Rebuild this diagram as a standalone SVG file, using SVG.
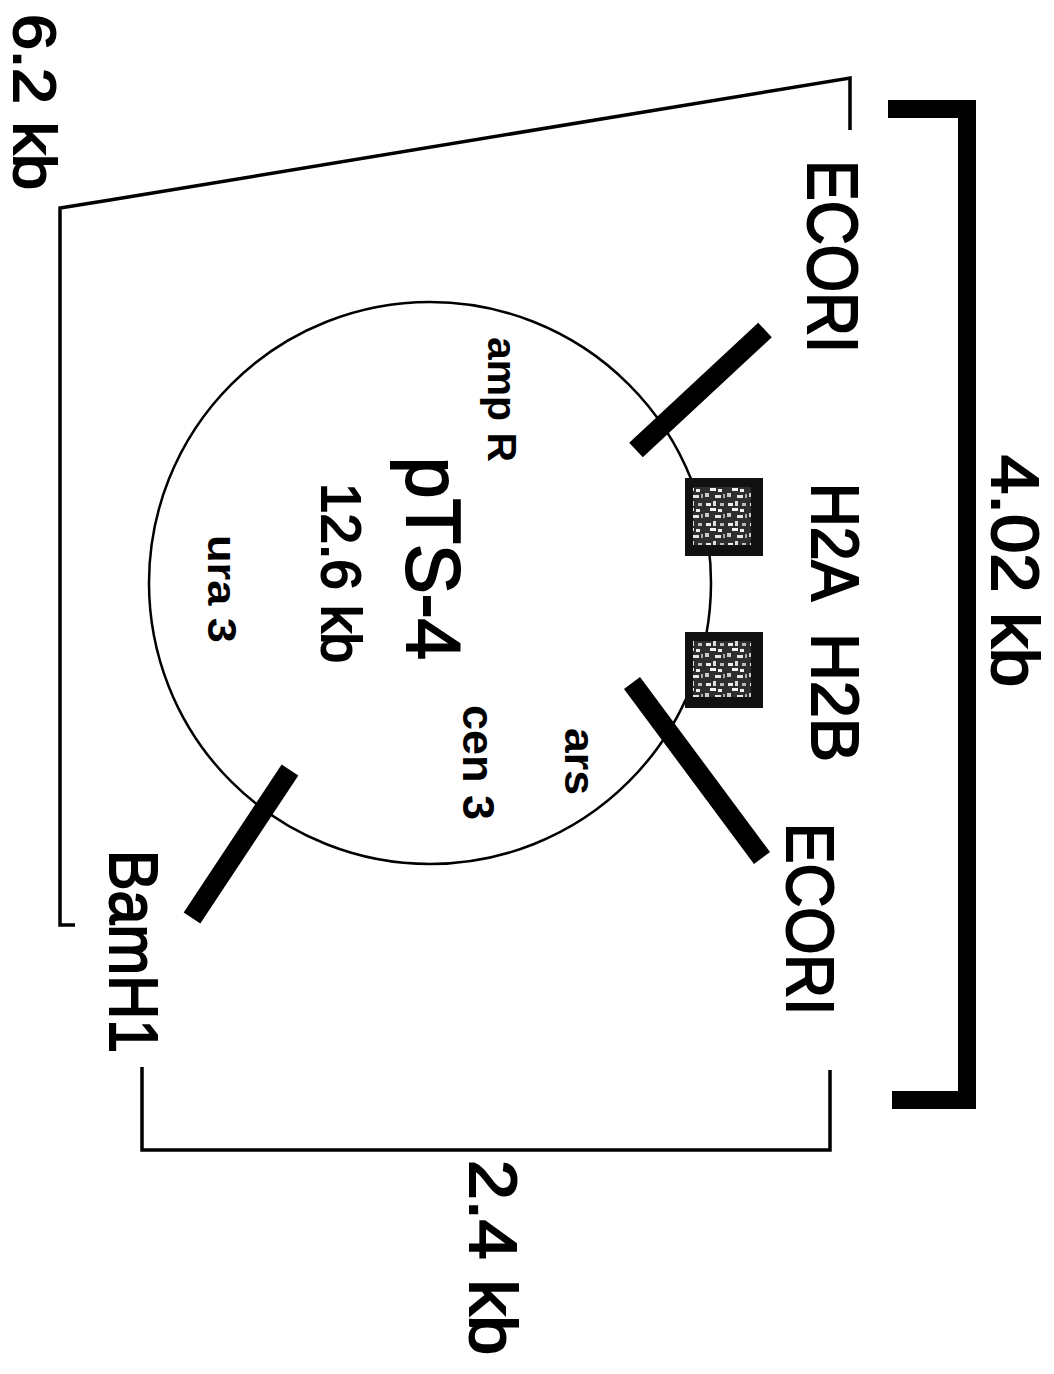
<svg xmlns="http://www.w3.org/2000/svg" width="1054" height="1374" viewBox="0 0 1054 1374">
<style>
.lbl{font-family:"Liberation Sans",Arial,sans-serif;fill:#000}
.o{stroke:#000;stroke-width:2}
.b{font-weight:bold}
.thin{fill:none;stroke:#000;stroke-width:3.5;stroke-linejoin:miter}
.bar{stroke:#000;stroke-width:20;stroke-linecap:butt}
</style>
<defs>
<pattern id="speck" width="22" height="20" patternUnits="userSpaceOnUse">
<rect width="22" height="20" fill="#2e2e2e"/>
<rect x="2" y="3" width="5" height="3" fill="#eee"/>
<rect x="9" y="1" width="3" height="5" fill="#ddd"/>
<rect x="6" y="8" width="6" height="3" fill="#f4f4f4"/>
<rect x="1" y="13" width="4" height="4" fill="#ccc"/>
<rect x="14" y="9" width="4" height="3" fill="#eee"/>
<rect x="16" y="3" width="4" height="3" fill="#bbb"/>
<rect x="11" y="15" width="6" height="3" fill="#e6e6e6"/>
<rect x="19" y="14" width="2" height="4" fill="#aaa"/>
</pattern>
</defs>
<rect width="1054" height="1374" fill="#fff"/>
<g id="connectors">
<path class="thin" d="M850,130 V78 L110,200 L60,208 V925 H75"/>
<path class="thin" d="M142,1067 V1150 H830 V1070"/>
<path d="M888,109 H967 V1100 H892" fill="none" stroke="#000" stroke-width="18"/>
</g>
<g id="plasmid">
<circle cx="430" cy="583" r="281" fill="none" stroke="#000" stroke-width="2.5"/>
</g>
<g id="ecori-top-site"><line class="bar" x1="636" y1="450" x2="765" y2="330"/></g>
<g id="ecori-bottom-site"><line class="bar" x1="632" y1="683" x2="762" y2="858"/></g>
<g id="bamh1-site"><line class="bar" x1="290" y1="770" x2="192" y2="918"/></g>
<g id="h2a-box"><rect x="685" y="478" width="78" height="78" fill="#111"/><rect x="693" y="487" width="58" height="58" fill="url(#speck)"/></g>
<g id="h2b-box"><rect x="685" y="632" width="78" height="76" fill="#111"/><rect x="693" y="641" width="58" height="56" fill="url(#speck)"/></g>
<g id="labels">
<text class="lbl o" transform="translate(808,160) rotate(90)" font-size="70" textLength="193" lengthAdjust="spacingAndGlyphs">ECORI</text>
<text class="lbl o" transform="translate(812,483) rotate(90)" font-size="66" textLength="118" lengthAdjust="spacingAndGlyphs">H2A</text>
<text class="lbl o" transform="translate(812,633) rotate(90)" font-size="66" textLength="129" lengthAdjust="spacingAndGlyphs">H2B</text>
<text class="lbl o" transform="translate(787,823) rotate(90)" font-size="66" textLength="192" lengthAdjust="spacingAndGlyphs">ECORI</text>
<text class="lbl o" transform="translate(992,455) rotate(90)" font-size="66" textLength="232" lengthAdjust="spacingAndGlyphs">4.02 kb</text>
<text class="lbl o" transform="translate(14,14) rotate(90)" font-size="60" textLength="176" lengthAdjust="spacingAndGlyphs">6.2 kb</text>
<text class="lbl o" transform="translate(110,850) rotate(90)" font-size="68" textLength="203" lengthAdjust="spacingAndGlyphs">BamH1</text>
<text class="lbl o" transform="translate(470,1160) rotate(90)" font-size="66" textLength="195" lengthAdjust="spacingAndGlyphs">2.4 kb</text>
<text class="lbl o" transform="translate(407,457) rotate(90)" font-size="76" textLength="203" lengthAdjust="spacingAndGlyphs">pTS-4</text>
<text class="lbl o" transform="translate(322,483) rotate(90)" font-size="56" textLength="180" lengthAdjust="spacingAndGlyphs">12.6 kb</text>
<text class="lbl b" transform="translate(488,337) rotate(90)" font-size="40" textLength="125" lengthAdjust="spacingAndGlyphs">amp R</text>
<text class="lbl b" transform="translate(208,535) rotate(90)" font-size="40" textLength="108" lengthAdjust="spacingAndGlyphs">ura 3</text>
<text class="lbl b" transform="translate(463,705) rotate(90)" font-size="44" textLength="115" lengthAdjust="spacingAndGlyphs">cen 3</text>
<text class="lbl b" transform="translate(565,728) rotate(90)" font-size="42" textLength="67" lengthAdjust="spacingAndGlyphs">ars</text>
</g>
</svg>
